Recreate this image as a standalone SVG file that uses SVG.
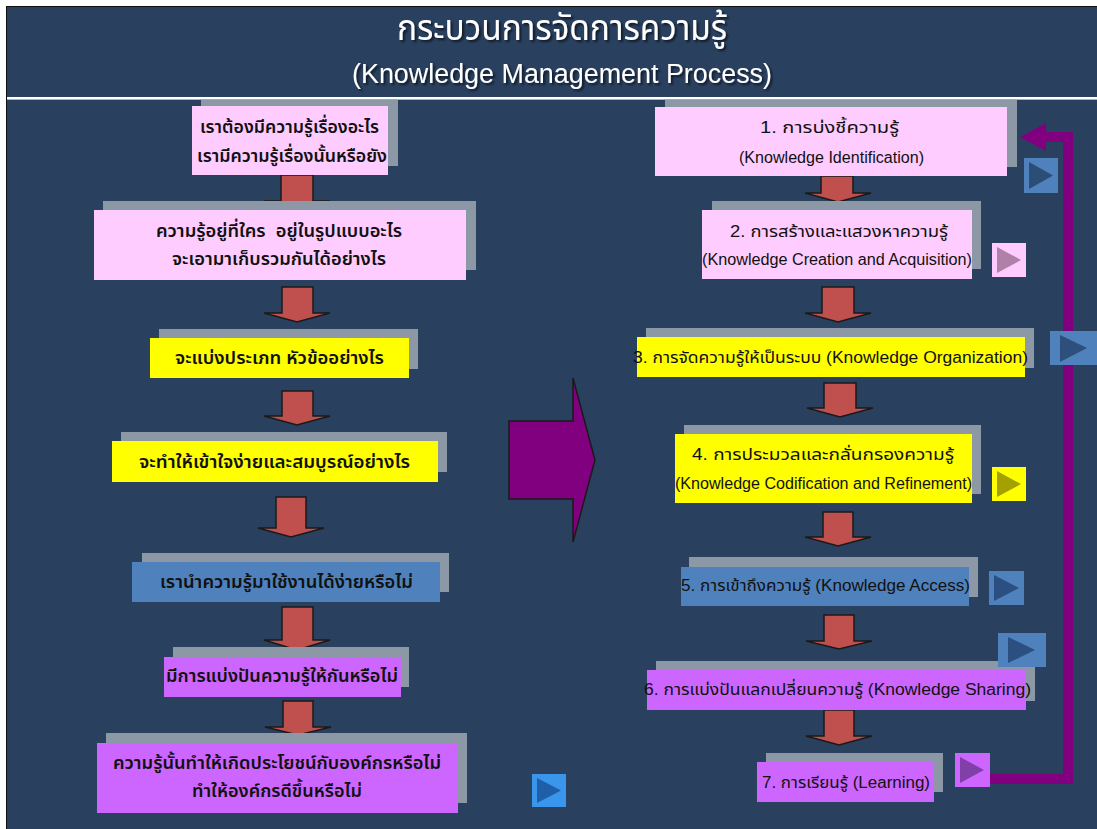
<svg xmlns="http://www.w3.org/2000/svg" width="1097" height="829" viewBox="0 0 1097 829">
<style>
text{font-family:"Liberation Sans","Noto Sans","Noto Sans Thai","DejaVu Sans",sans-serif;fill:#111;}
.t{font-size:18px;font-weight:600;}
.r{font-size:16px;}
.ttl{fill:#fff;}
.sh{fill:#8d98a6;}
.pk{fill:#ffccff;}
.ye{fill:#ffff00;}
.bl{fill:#4f81bd;}
.pu{fill:#cc66ff;}
.arr{fill:#c0504d;stroke:#1a1a1a;stroke-width:1.5;stroke-linejoin:miter;}
</style>
<defs>
<filter id="ds" x="-10%" y="-30%" width="120%" height="160%">
<feDropShadow dx="2" dy="2" stdDeviation="1" flood-color="#000" flood-opacity="0.6"/>
</filter>
</defs>
<rect x="0" y="0" width="1097" height="829" fill="#ffffff"/>
<rect x="6.5" y="6.5" width="1095" height="830" fill="#29405f" stroke="#111" stroke-width="1"/>
<rect x="7" y="97" width="1090" height="2.6" fill="#ffffff"/>

<g id="title" filter="url(#ds)">
<text class="ttl" x="397" y="40" font-size="36" textLength="330" lengthAdjust="spacingAndGlyphs">กระบวนการจัดการความรู้</text>
<text class="ttl" x="352" y="83" font-size="27" textLength="420" lengthAdjust="spacingAndGlyphs">(Knowledge Management Process)</text>
</g>

<g id="connectors">
<polygon class="arr" points="281,175 313,175 313,201 330,201 297,210 264,201 281,201"/>
<polygon class="arr" points="282,287 313,287 313,313 330,313 297,322 264,313 282,313"/>
<polygon class="arr" points="282,391 313,391 313,416 330,416 297,425 264,416 282,416"/>
<polygon class="arr" points="276,497 306,497 306,528 324,528 291,537 258,528 276,528"/>
<polygon class="arr" points="282,607 313,607 313,640 330,640 297,650 264,640 282,640"/>
<polygon class="arr" points="283,701 313,701 313,727 331,727 298,735 265,727 283,727"/>

<polygon class="arr" points="821,176 853,176 853,193 871,193 838,202 805,193 821,193"/>
<polygon class="arr" points="822,287 854,287 854,313 871,313 838,322 805,313 822,313"/>
<polygon class="arr" points="824,383 856,383 856,408 873,408 840,417 807,408 824,408"/>
<polygon class="arr" points="823,512 853,512 853,537 871,537 838,546 805,537 823,537"/>
<polygon class="arr" points="824,615 854,615 854,641 872,641 839,649 806,641 824,641"/>
<polygon class="arr" points="824,710 854,710 854,736 872,736 839,745 806,736 824,736"/>

<polygon points="509,421 573,421 573,378 595,460 573,542 573,499 509,499" fill="#800080" stroke="#1a1a1a" stroke-width="1.5"/>

<polyline points="990,779 1068,779 1068,137 1044,137" fill="none" stroke="#800080" stroke-width="10" stroke-linejoin="miter"/>
<polygon points="1020,137 1046,123 1046,151" fill="#800080"/>
</g>

<g id="q1">
<rect class="sh" x="201" y="99.6" width="197" height="66.4"/>
<rect class="pk" x="192" y="106" width="196" height="69"/>
<text class="t" x="200" y="133" textLength="179" lengthAdjust="spacingAndGlyphs">เราต้องมีความรู้เรื่องอะไร</text>
<text class="t" x="197" y="162" textLength="190" lengthAdjust="spacingAndGlyphs">เรามีความรู้เรื่องนั้นหรือยัง</text>
</g>
<g id="q2">
<rect class="sh" x="103" y="201" width="373" height="69"/>
<rect class="pk" x="94" y="210" width="372" height="70"/>
<text class="t" x="156" y="237" textLength="246" lengthAdjust="spacingAndGlyphs" xml:space="preserve">ความรู้อยู่ที่ใคร  อยู่ในรูปแบบอะไร</text>
<text class="t" x="172" y="265" textLength="214" lengthAdjust="spacingAndGlyphs">จะเอามาเก็บรวมกันได้อย่างไร</text>
</g>
<g id="q3">
<rect class="sh" x="159" y="329" width="259" height="40"/>
<rect class="ye" x="150" y="338" width="259" height="40"/>
<text class="t" x="175" y="364" textLength="209" lengthAdjust="spacingAndGlyphs">จะแบ่งประเภท หัวข้ออย่างไร</text>
</g>
<g id="q4">
<rect class="sh" x="121" y="432" width="326" height="40"/>
<rect class="ye" x="112" y="441" width="326" height="41"/>
<text class="t" x="139" y="468" textLength="271" lengthAdjust="spacingAndGlyphs">จะทำให้เข้าใจง่ายและสมบูรณ์อย่างไร</text>
</g>
<g id="q5">
<rect class="sh" x="142" y="553" width="307" height="39"/>
<rect class="bl" x="132" y="562" width="308" height="40"/>
<text class="t" x="160" y="588" textLength="253" lengthAdjust="spacingAndGlyphs">เรานำความรู้มาใช้งานได้ง่ายหรือไม่</text>
</g>
<g id="q6">
<rect class="sh" x="173" y="647" width="236" height="40"/>
<rect class="pu" x="164" y="657" width="237" height="40"/>
<text class="t" x="166" y="682" textLength="232" lengthAdjust="spacingAndGlyphs">มีการแบ่งปันความรู้ให้กันหรือไม่</text>
</g>
<g id="q7">
<rect class="sh" x="106" y="733" width="361" height="70"/>
<rect class="pu" x="97" y="743" width="361" height="70"/>
<text class="t" x="113" y="769" textLength="328" lengthAdjust="spacingAndGlyphs">ความรู้นั้นทำให้เกิดประโยชน์กับองค์กรหรือไม่</text>
<text class="t" x="192" y="797" textLength="170" lengthAdjust="spacingAndGlyphs">ทำให้องค์กรดีขึ้นหรือไม่</text>
</g>

<g id="s1">
<rect class="sh" x="665" y="99.6" width="352" height="67.4"/>
<rect class="pk" x="655" y="107" width="352" height="69"/>
<text class="r" x="760" y="133" textLength="139" lengthAdjust="spacingAndGlyphs">1. การบ่งชี้ความรู้</text>
<text class="r" x="739" y="163" textLength="185" lengthAdjust="spacingAndGlyphs">(Knowledge Identification)</text>
</g>
<g id="s2">
<rect class="sh" x="712" y="201" width="269" height="68"/>
<rect class="pk" x="702" y="210" width="270" height="69"/>
<text class="r" x="730" y="237" textLength="218" lengthAdjust="spacingAndGlyphs">2. การสร้างและแสวงหาความรู้</text>
<text class="r" x="702" y="265" textLength="270" lengthAdjust="spacingAndGlyphs">(Knowledge Creation and Acquisition)</text>
</g>
<g id="s3">
<rect class="sh" x="646" y="328" width="388" height="40"/>
<rect class="ye" x="637" y="337" width="388" height="40"/>
<text class="r" x="633" y="363" textLength="395" lengthAdjust="spacingAndGlyphs">3. การจัดความรู้ให้เป็นระบบ (Knowledge Organization)</text>
</g>
<g id="s4">
<rect class="sh" x="684" y="425" width="297" height="69"/>
<rect class="ye" x="675" y="434" width="297" height="69"/>
<text class="r" x="692" y="460" textLength="262" lengthAdjust="spacingAndGlyphs">4. การประมวลและกลั่นกรองความรู้</text>
<text class="r" x="675" y="489" textLength="297" lengthAdjust="spacingAndGlyphs">(Knowledge Codification and Refinement)</text>
</g>
<g id="s5">
<rect class="sh" x="689" y="557" width="289" height="40"/>
<rect class="bl" x="681" y="567" width="288" height="39"/>
<text class="r" x="681" y="591" textLength="289" lengthAdjust="spacingAndGlyphs">5. การเข้าถึงความรู้ (Knowledge Access)</text>
</g>
<g id="s6">
<rect class="sh" x="656" y="661" width="379" height="40"/>
<rect class="pu" x="647" y="670" width="379" height="40"/>
<text class="r" x="644" y="695" textLength="387" lengthAdjust="spacingAndGlyphs">6. การแบ่งปันแลกเปลี่ยนความรู้ (Knowledge Sharing)</text>
</g>
<g id="s7">
<rect class="sh" x="766" y="753" width="177" height="39"/>
<rect class="pu" x="757" y="762" width="177" height="40"/>
<text class="r" x="762" y="788" textLength="168" lengthAdjust="spacingAndGlyphs">7. การเรียนรู้ (Learning)</text>
</g>

<g id="btn-left">
<rect x="532" y="774" width="34" height="33" fill="#3a96ec"/>
<polygon points="537,778 561,790.5 537,803" fill="#1f5fa8"/>
</g>
<g id="btn-s1">
<rect x="1024" y="158" width="34" height="35" fill="#4f81bd"/>
<polygon points="1029,162 1053,175.5 1029,189" fill="#2c4d78"/>
</g>
<g id="btn-s2">
<rect x="992" y="243" width="34" height="34" fill="#ffccff"/>
<polygon points="997,247 1021,260 997,273" fill="#b080a8"/>
</g>
<g id="btn-s3">
<rect x="1050" y="331" width="47" height="34" fill="#4f81bd"/>
<polygon points="1060,335 1087,348 1060,362" fill="#2e4f7b"/>
</g>
<g id="btn-s4">
<rect x="992" y="467" width="34" height="34" fill="#ffff00"/>
<polygon points="997,471 1021,484 997,497" fill="#a3a000"/>
</g>
<g id="btn-s5">
<rect x="989" y="571" width="35" height="34" fill="#4f81bd"/>
<polygon points="994,575 1019,588 994,601" fill="#2b4f80"/>
</g>
<g id="btn-s6">
<rect x="998" y="633" width="48" height="34" fill="#4f81bd"/>
<polygon points="1008,637 1035,650 1008,663" fill="#2b4f80"/>
</g>
<g id="btn-s7">
<rect x="955" y="753" width="35" height="34" fill="#cc66ff"/>
<polygon points="960,757 984,770 960,783" fill="#8040a8"/>
</g>
</svg>
